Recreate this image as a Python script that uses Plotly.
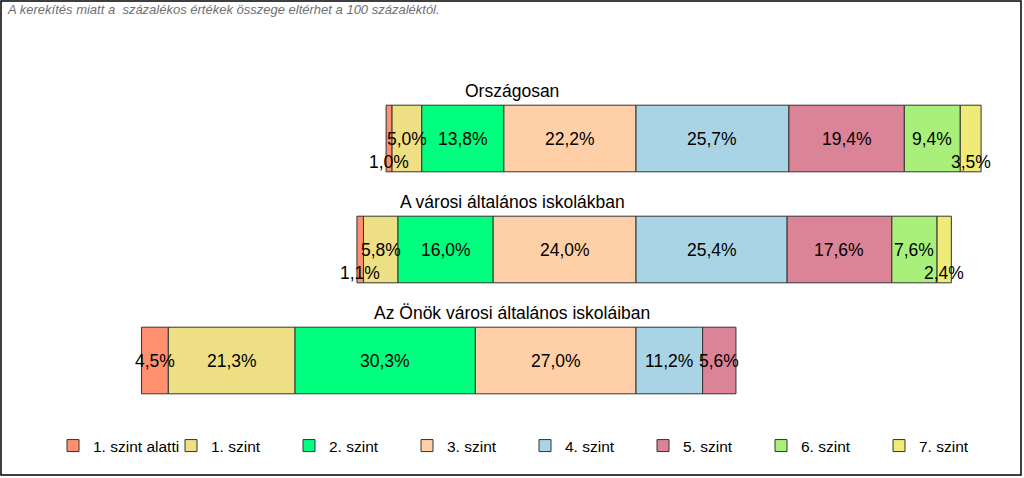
import plotly.graph_objects as go

groups = ["Országosan", "A városi általános iskolákban", "Az Önök városi általános iskoláiban"]
levels = ["1. szint alatti", "1. szint", "2. szint", "3. szint",
          "4. szint", "5. szint", "6. szint", "7. szint"]
colors = ["#FF9070", "#EEDF84", "#00FF7F", "#FFD0A8",
          "#A8D4E6", "#DB8397", "#A8F07A", "#F0EB78"]

v_orszagos = [1.0, 5.0, 13.8, 22.2, 25.7, 19.4, 9.4, 3.5]
v_varosi = [1.1, 5.8, 16.0, 24.0, 25.4, 17.6, 7.6, 2.4]
v_onok = [4.5, 21.3, 30.3, 27.0, 11.2, 5.6, None, None]
values = [v_orszagos, v_varosi, v_onok]
n_left = 4  # levels to the left of the centre line

note = "A kerekítés miatt a  százalékos értékek összege eltérhet a 100 százaléktól."

W, H = 1024, 478
ML, MR, MT, MB = 5, 5, 83, 62
PW, PH = W - ML - MR, H - MT - MB

# bases: each bar starts at -(sum of the left part)
bases = []
for vals in values:
    start = -sum(v for v in vals[:n_left] if v)
    b = []
    acc = start
    for v in vals:
        b.append(acc)
        acc += v if v else 0
    bases.append(b)

fig = go.Figure()
annotations = []
for k, lev in enumerate(levels):
    xs, ys, bs = [], [], []
    for g, vals in enumerate(values):
        v = vals[k]
        if v is None:
            continue
        xs.append(v)
        ys.append(groups[g])
        bs.append(bases[g][k])
        annotations.append(dict(
            x=bases[g][k] + v / 2, y=groups[g], xref="x", yref="y",
            text=f"{v:.1f}%".replace(".", ","), showarrow=False,
            font=dict(size=17.5, color="black"),
            xanchor="center", yanchor="middle",
            yshift=-23 if v < 4 else 0,
        ))
    fig.add_trace(go.Bar(
        x=xs, y=ys, base=bs, orientation="h", name=lev,
        marker=dict(color=colors[k], line=dict(color="#333333", width=1)),
        width=0.6, hoverinfo="skip",
    ))

for g in groups:
    annotations.append(dict(
        x=0.5, xref="paper", y=g, yref="y", text=g, showarrow=False,
        font=dict(size=17.5, color="black"), xanchor="center", yanchor="middle",
        yshift=48,
    ))

annotations.append(dict(
    x=0, xref="paper", y=(H - MB - 10) / PH, yref="paper", text=f"<i>{note}</i>",
    showarrow=False, font=dict(size=13, color="#707070"),
    xanchor="left", yanchor="middle",
))

frame = dict(
    type="rect", xref="paper", yref="paper",
    x0=(1 - ML) / PW, x1=(1021 - ML) / PW,
    y0=(H - MB - 475) / PH, y1=(H - MB - 1) / PH,
    line=dict(color="black", width=1.5), fillcolor="rgba(0,0,0,0)",
)

fig.update_layout(
    width=W, height=H,
    margin=dict(l=ML, r=MR, t=MT, b=MB),
    barmode="overlay",
    plot_bgcolor="white", paper_bgcolor="white",
    font=dict(family="Liberation Sans, Arial, sans-serif", color="black"),
    xaxis=dict(range=[-106.05, 64.37], visible=False, fixedrange=True),
    yaxis=dict(categoryorder="array", categoryarray=groups[::-1],
               range=[-0.5, 2.5], visible=False, fixedrange=True),
    showlegend=True,
    legend=dict(orientation="h", x=(53 - ML) / PW, xanchor="left",
                y=(H - MB - 446) / PH, yanchor="middle",
                font=dict(size=15.5), entrywidth=73, traceorder="normal",
                bgcolor="rgba(0,0,0,0)"),
    annotations=annotations,
    shapes=[frame],
)

fig.write_html("out.html", config={"displayModeBar": False},
               post_script="document.body.style.margin='0';")
